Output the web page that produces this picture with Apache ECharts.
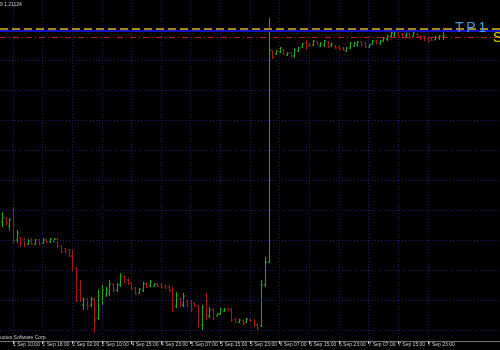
<!DOCTYPE html>
<html><head><meta charset="utf-8">
<script src="https://cdn.jsdelivr.net/npm/echarts@6/dist/echarts.min.js"></script>
<style>html,body{margin:0;padding:0;background:#000;}#c{width:500px;height:350px;}</style>
</head><body><div id="c"></div>
<script>
// trading sessions: [day, first hour, last hour] of hourly bars
const sessions = [["1 Sep",7,23],["2 Sep",0,17],["4 Sep",15,23],["5 Sep",0,23],["6 Sep",0,23],["7 Sep",0,23],["8 Sep",0,3]];
const opens = [1.1554,1.1566,1.1542,1.1590,1.1500,1.1506,1.1500,1.1488,1.1500,1.1488,
1.1500,1.1491,1.1500,1.1494,1.1497,1.1503,1.1482,1.1473,1.1470,1.1452,
1.1416,1.1350,1.1305,1.1320,1.1305,1.1320,1.1266,1.1320,1.1335,1.1341,
1.1365,1.1350,1.1365,1.1389,1.1380,1.1371,1.1356,1.1341,1.1350,1.1368,
1.1362,1.1362,1.1368,1.1365,1.1362,1.1359,1.1350,1.1302,1.1323,1.1305,
1.1317,1.1311,1.1311,1.1302,1.1245,1.1332,1.1272,1.1290,1.1272,1.1278,
1.1287,1.1293,1.1293,1.1263,1.1254,1.1257,1.1254,1.1260,1.1257,1.1245,
1.1242,1.1365,1.1434,1.2067,1.2058,1.2064,1.2070,1.2055,1.2061,1.2052,
1.2067,1.2079,1.2091,1.2085,1.2085,1.2094,1.2082,1.2085,1.2094,1.2082,
1.2082,1.2079,1.2076,1.2067,1.2076,1.2082,1.2085,1.2094,1.2091,1.2079,
1.2088,1.2097,1.2091,1.2097,1.2103,1.2112,1.2115,1.2121,1.2118,1.2112,
1.2118,1.2112,1.2118,1.2112,1.2109,1.2103,1.2106,1.2100,1.2106,1.2109];
const closes = [1.1566,1.1551,1.1560,1.1500,1.1521,1.1491,1.1488,1.1497,1.1488,1.1500,
1.1488,1.1500,1.1494,1.1503,1.1503,1.1482,1.1464,1.1467,1.1452,1.1410,
1.1320,1.1326,1.1320,1.1302,1.1323,1.1260,1.1332,1.1350,1.1350,1.1368,
1.1350,1.1365,1.1392,1.1374,1.1368,1.1353,1.1338,1.1353,1.1368,1.1359,
1.1374,1.1368,1.1362,1.1359,1.1356,1.1347,1.1296,1.1335,1.1305,1.1332,
1.1302,1.1293,1.1302,1.1254,1.1299,1.1275,1.1290,1.1266,1.1278,1.1293,
1.1293,1.1290,1.1260,1.1254,1.1260,1.1248,1.1263,1.1257,1.1245,1.1236,
1.1365,1.1434,1.2070,1.2049,1.2067,1.2076,1.2058,1.2061,1.2052,1.2070,
1.2076,1.2088,1.2076,1.2082,1.2097,1.2088,1.2091,1.2097,1.2079,1.2088,
1.2076,1.2073,1.2070,1.2076,1.2091,1.2091,1.2094,1.2085,1.2079,1.2085,
1.2097,1.2091,1.2097,1.2106,1.2112,1.2121,1.2121,1.2112,1.2109,1.2118,
1.2106,1.2121,1.2109,1.2103,1.2100,1.2097,1.2100,1.2109,1.2112,1.21124];
const lows = [1.1539,1.1545,1.1530,1.1491,1.1491,1.1479,1.1479,1.1485,1.1485,1.1485,
1.1485,1.1488,1.1491,1.1491,1.1494,1.1476,1.1461,1.1461,1.1449,1.1404,
1.1314,1.1314,1.1290,1.1290,1.1299,1.1221,1.1260,1.1305,1.1329,1.1332,
1.1344,1.1344,1.1359,1.1371,1.1365,1.1350,1.1335,1.1338,1.1344,1.1356,
1.1359,1.1359,1.1359,1.1356,1.1353,1.1344,1.1284,1.1296,1.1299,1.1299,
1.1299,1.1284,1.1299,1.1236,1.1230,1.1260,1.1266,1.1260,1.1272,1.1275,
1.1284,1.1287,1.1254,1.1251,1.1251,1.1245,1.1251,1.1254,1.1239,1.1230,
1.1239,1.1359,1.1431,1.2043,1.2055,1.2061,1.2055,1.2052,1.2049,1.2046,
1.2064,1.2076,1.2070,1.2079,1.2082,1.2085,1.2079,1.2079,1.2076,1.2079,
1.2073,1.2070,1.2067,1.2064,1.2073,1.2079,1.2079,1.2082,1.2076,1.2076,
1.2085,1.2088,1.2085,1.2094,1.2097,1.2106,1.2109,1.2106,1.2106,1.2109,
1.2103,1.2109,1.2106,1.2100,1.2097,1.2094,1.2097,1.2100,1.2100,1.2100];
const highs = [1.1584,1.1569,1.1566,1.1599,1.1530,1.1509,1.1506,1.1503,1.1506,1.1503,
1.1503,1.1506,1.1503,1.1506,1.1506,1.1506,1.1485,1.1476,1.1473,1.1470,
1.1419,1.1380,1.1326,1.1326,1.1329,1.1326,1.1350,1.1365,1.1359,1.1380,
1.1371,1.1371,1.1401,1.1395,1.1386,1.1374,1.1359,1.1356,1.1374,1.1374,
1.1380,1.1371,1.1371,1.1371,1.1365,1.1365,1.1359,1.1344,1.1326,1.1341,
1.1320,1.1320,1.1314,1.1305,1.1305,1.1341,1.1299,1.1296,1.1281,1.1296,
1.1296,1.1296,1.1296,1.1266,1.1263,1.1260,1.1266,1.1263,1.1263,1.1251,
1.1380,1.1449,1.2166,1.2070,1.2070,1.2079,1.2073,1.2064,1.2064,1.2076,
1.2079,1.2091,1.2100,1.2091,1.2100,1.2097,1.2094,1.2100,1.2097,1.2091,
1.2085,1.2082,1.2079,1.2079,1.2094,1.2094,1.2097,1.2097,1.2094,1.2088,
1.2100,1.2100,1.2100,1.2109,1.2115,1.2124,1.2124,1.2124,1.2121,1.2121,
1.2121,1.2124,1.2121,1.2115,1.2112,1.2109,1.2109,1.2112,1.2115,1.2136];
const tp1Level = 1.2133;      // gold dashed line
const orderLevel = 1.2128;    // blue solid line
const bidLevel = 1.2107;      // red dash-dot line
const gridLevels = [1.2130,1.2040,1.1950,1.1860,1.1770,1.1680,1.1590,1.1500,1.1410,1.1320,1.1230];
const priceMin = 1.1197, priceMax = 1.2220;
const emptySlots = 15;        // chart shift space on the right

const categories = [];
sessions.forEach(([d, h0, h1]) => { for (let h = h0; h <= h1; h++) categories.push(d + ' ' + String(h).padStart(2,'0') + ':00'); });
for (let k = 0; k < emptySlots; k++) categories.push('');
const data = opens.map((o, i) => [i, o, closes[i], lows[i], highs[i]]);
const isLabel = (i) => i >= 3 && (i - 3) % 8 === 0 && categories[i] !== '';

function renderItem(params, api) {
  const i = api.value(0);
  const o = api.coord([i, api.value(1)]);
  const c = api.coord([i, api.value(2)]);
  const l = api.coord([i, api.value(3)]);
  const h = api.coord([i, api.value(4)]);
  const x = Math.round(o[0]) + 0.5;
  const w = 1.5;
  const up = api.value(2) >= api.value(1);
  const st = { stroke: up ? '#1ea81e' : '#a81616', lineWidth: 1 };
  return { type: 'group', children: [
    { type: 'line', shape: { x1: x, y1: h[1], x2: x, y2: l[1] }, style: st },
    { type: 'line', shape: { x1: x - w, y1: o[1], x2: x, y2: o[1] }, style: st },
    { type: 'line', shape: { x1: x, y1: c[1], x2: x + w, y2: c[1] }, style: st }
  ]};
}

const chart = echarts.init(document.getElementById('c'), null, { renderer: 'canvas' });
chart.setOption({
  animation: false,
  backgroundColor: '#000000',
  grid: { left: 0, right: 0, top: 0, bottom: 9 },
  xAxis: {
    type: 'category', data: categories, boundaryGap: true,
    axisLine: { show: true, lineStyle: { color: '#707070', width: 1 } },
    axisTick: { show: true, alignWithLabel: true, interval: isLabel, length: 3, lineStyle: { color: '#c0c0c0' } },
    axisLabel: { interval: isLabel, align: 'left', margin: 1, color: '#c8c8c8', fontSize: 5, fontFamily: 'Liberation Sans', hideOverlap: false },
    splitLine: { show: true, alignWithLabel: true, interval: isLabel, lineStyle: { color: '#1c1c70', type: [1, 2], width: 1 } }
  },
  yAxis: {
    type: 'value', min: priceMin, max: priceMax, position: 'right',
    axisLine: { show: false }, axisTick: { show: false }, axisLabel: { show: false },
    splitLine: { show: false }
  },
  series: [
    {
      type: 'line', data: [], silent: true, z: 1,
      markLine: {
        silent: true, symbol: 'none', label: { show: false }, precision: 5,
        lineStyle: { color: '#1c1c70', type: [1, 2], width: 1 },
        data: gridLevels.map(v => ({ yAxis: v }))
      }
    },
    { type: 'custom', renderItem: renderItem, data: data, encode: { x: 0, y: [1, 2, 3, 4] }, clip: true, z: 3 },
    {
      type: 'line', data: [], silent: true, z: 4,
      markLine: {
        silent: true, symbol: 'none', label: { show: false }, precision: 5,
        data: [
          { yAxis: orderLevel, lineStyle: { color: '#1414c8', type: 'solid', width: 2 } },
          { yAxis: tp1Level, lineStyle: { color: '#a88a10', type: [8, 4], width: 2 } },
          { yAxis: bidLevel, lineStyle: { color: '#c01818', type: [6, 3, 1, 3], width: 1 } }
        ]
      }
    }
  ],
  graphic: [
    { type: 'text', z: 100, left: 0, top: 2, style: { text: '9 1.21124', fill: '#d0d0d0', font: '5px "Liberation Sans"' } },
    { type: 'text', z: 100, left: 0, top: 335, style: { text: 'uotes Software Corp.', fill: '#c8c8c8', font: '5px "Liberation Sans"' } },
    { type: 'text', z: 100, left: 455, top: 21, style: { text: 'T\u2009P\u20091', fill: '#4a9be0', font: '14px "Liberation Sans"' } },
    { type: 'text', z: 100, left: 493, top: 31, style: { text: 'SL', fill: '#d8d800', font: '14px "Liberation Sans"' } }
  ]
});
</script></body></html>
